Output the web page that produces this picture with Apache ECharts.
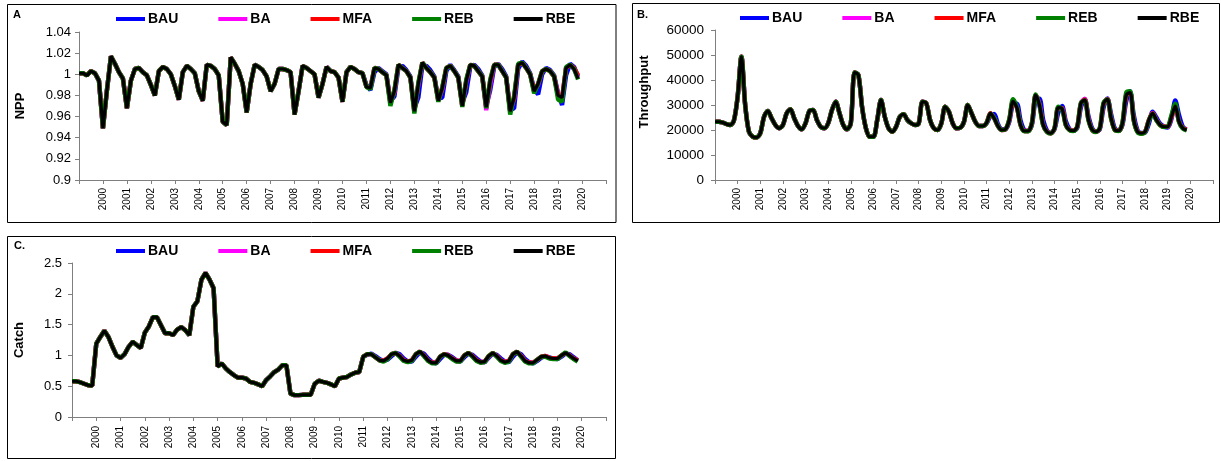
<!DOCTYPE html>
<html>
<head>
<meta charset="utf-8">
<script src="https://cdn.jsdelivr.net/npm/echarts@6/dist/echarts.min.js"></script>
<style>
  html, body { margin: 0; padding: 0; background: #fff; }
  #chart { width: 1221px; height: 461px; }
</style>
</head>
<body>
<div id="chart"></div>
<script>
// Bi-monthly model output, Jan 1999 - Nov 2019.
// The hindcast (1999-2010) is shared by all scenarios; scenarios diverge from 2011.
const FIRST_YEAR = 1999;
const STEPS_PER_YEAR = 6;
const SCENARIOS = ['BAU', 'BA', 'MFA', 'REB', 'RBE'];
const COLORS = { BAU: '#0000ff', BA: '#ff00ff', MFA: '#ff0000', REB: '#008000', RBE: '#000000' };
const YEAR_LABELS = ['2000','2001','2002','2003','2004','2005','2006','2007','2008','2009','2010',
                     '2011','2012','2013','2014','2015','2016','2017','2018','2019','2020'];

// ---- A: NPP (relative) ----
const nppHindcast = [
  1.001, 1.001, 0.999, 1.003, 1.001, 0.994,
  0.949, 0.985, 1.017, 1.010, 1.002, 0.996,
  0.968, 0.994, 1.005, 1.006, 1.002, 0.999,
  0.990, 0.980, 1.003, 1.007, 1.005, 1.000,
  0.989, 0.976, 1.002, 1.008, 1.005, 1.001,
  0.984, 0.975, 1.009, 1.008, 1.005, 0.999,
  0.955, 0.952, 1.016, 1.010, 1.003, 0.991,
  0.964, 0.991, 1.009, 1.007, 1.004, 0.998,
  0.984, 0.991, 1.005, 1.005, 1.004, 1.002,
  0.962, 0.984, 1.008, 1.006, 1.003, 1.000,
  0.978, 0.991, 1.007, 1.003, 1.002, 0.997,
  0.974, 1.002, 1.007, 1.005, 1.002, 1.001
];
const nppBAU = [
  0.990, 0.985, 1.002, 1.006, 1.003, 1.000,
  0.975, 0.979, 1.006, 1.008, 1.004, 0.998,
  0.968, 0.978, 1.008, 1.008, 1.004, 0.998,
  0.977, 0.978, 1.003, 1.009, 1.004, 0.998,
  0.973, 0.983, 1.007, 1.009, 1.005, 0.999,
  0.970, 0.985, 1.007, 1.010, 1.005, 0.998,
  0.966, 0.968, 1.005, 1.012, 1.008, 1.001,
  0.986, 0.981, 1.000, 1.006, 1.004, 0.999,
  0.982, 0.971, 0.999, 1.010, 1.007, 0.998
];
const nppBA = [
  0.988, 0.987, 1.006, 1.005, 1.002, 0.999,
  0.973, 0.983, 1.009, 1.006, 1.003, 0.997,
  0.965, 0.990, 1.011, 1.006, 1.002, 0.997,
  0.975, 0.986, 1.006, 1.008, 1.003, 0.997,
  0.970, 0.993, 1.009, 1.008, 1.003, 0.998,
  0.966, 0.990, 1.009, 1.009, 1.003, 0.997,
  0.965, 0.977, 1.009, 1.011, 1.006, 1.000,
  0.984, 0.990, 1.003, 1.005, 1.003, 0.998,
  0.980, 0.977, 1.006, 1.009, 1.005, 0.997
];
const nppMFA = [
  0.988, 0.987, 1.006, 1.005, 1.002, 0.999,
  0.973, 0.984, 1.009, 1.006, 1.003, 0.997,
  0.965, 0.991, 1.011, 1.006, 1.002, 0.997,
  0.975, 0.987, 1.006, 1.008, 1.003, 0.997,
  0.970, 0.994, 1.009, 1.008, 1.003, 0.998,
  0.969, 0.994, 1.009, 1.009, 1.003, 0.997,
  0.965, 0.978, 1.009, 1.011, 1.006, 1.000,
  0.984, 0.991, 1.003, 1.005, 1.003, 0.998,
  0.980, 0.978, 1.006, 1.009, 1.006, 0.999
];
const nppREB = [
  0.988, 0.986, 1.006, 1.005, 1.002, 0.999,
  0.970, 0.985, 1.009, 1.006, 1.003, 0.997,
  0.963, 0.992, 1.011, 1.006, 1.002, 0.997,
  0.974, 0.988, 1.006, 1.008, 1.003, 0.997,
  0.969, 0.995, 1.009, 1.008, 1.003, 0.998,
  0.968, 0.995, 1.009, 1.009, 1.003, 0.997,
  0.962, 0.980, 1.010, 1.011, 1.006, 1.000,
  0.982, 0.991, 1.003, 1.005, 1.003, 0.998,
  0.976, 0.974, 1.007, 1.009, 1.005, 0.995
];
const nppRBE = [
  0.988, 0.987, 1.006, 1.005, 1.002, 0.999,
  0.973, 0.984, 1.009, 1.006, 1.003, 0.997,
  0.965, 0.991, 1.011, 1.006, 1.002, 0.997,
  0.975, 0.987, 1.006, 1.008, 1.003, 0.997,
  0.970, 0.994, 1.009, 1.008, 1.003, 0.998,
  0.969, 0.994, 1.009, 1.009, 1.003, 0.997,
  0.965, 0.978, 1.009, 1.011, 1.006, 1.000,
  0.984, 0.991, 1.003, 1.005, 1.003, 0.998,
  0.980, 0.978, 1.006, 1.009, 1.005, 0.996
];

// ---- B: Throughput ----
const tputHindcast = [
  23300, 23300, 23000, 22400, 22000, 23700,
  33300, 49300, 30000, 19300, 17300, 17000,
  18700, 25300, 27600, 24700, 22000, 20700,
  22000, 26700, 28300, 24700, 21600, 20300,
  22700, 27600, 28000, 24000, 21300, 20700,
  22700, 28000, 31300, 26700, 22000, 20300,
  22700, 43000, 42000, 29000, 20700, 17300,
  17300, 24000, 32000, 25300, 20700, 19300,
  21300, 25300, 26300, 24000, 22700, 22000,
  22700, 31300, 30700, 24000, 20700, 20000,
  22700, 29300, 27300, 22700, 20700, 20900,
  23300, 30000, 26700, 23300, 21600, 21600
];
const tputBAU = [
  22700, 25500, 26400, 22400, 20300, 20300,
  23300, 30200, 30500, 23800, 20000, 19600,
  22000, 32000, 32500, 24000, 19800, 18800,
  20300, 27000, 29600, 23500, 20400, 19700,
  20800, 29000, 32400, 25500, 20600, 19400,
  20300, 29000, 32600, 26300, 20600, 19800,
  22000, 31500, 35500, 26000, 19900, 18800,
  19000, 22500, 27300, 25000, 22500, 21400,
  21000, 24500, 31800, 26000, 21300, 20200
];
const tputBA = [
  22900, 26600, 24800, 21600, 20000, 20300,
  24000, 31300, 29200, 22000, 19600, 19600,
  22700, 33800, 30300, 22000, 19300, 18700,
  20700, 28800, 28700, 22000, 20000, 19700,
  21200, 30800, 32400, 24300, 20000, 19300,
  20700, 30500, 32400, 24800, 20000, 19700,
  22600, 33800, 35100, 24100, 19300, 18700,
  19300, 23900, 26800, 24100, 22000, 21300,
  21300, 25200, 29900, 23400, 20700, 20100
];
const tputMFA = [
  22900, 26700, 24700, 21600, 20000, 20300,
  24000, 31400, 29100, 22000, 19600, 19600,
  22700, 34000, 30100, 22000, 19300, 18700,
  20700, 28900, 28600, 22000, 20000, 19700,
  21300, 30600, 32100, 24100, 20000, 19300,
  20700, 30600, 32300, 24700, 20000, 19700,
  22700, 34000, 35000, 24000, 19300, 18700,
  19300, 24000, 26700, 24000, 22000, 21300,
  21300, 25300, 29700, 23400, 20800, 20200
];
const tputREB = [
  22900, 26500, 24800, 21600, 20000, 20300,
  24300, 32300, 29300, 22000, 19500, 19500,
  22800, 34200, 29800, 21800, 19200, 18600,
  20800, 29300, 28300, 21900, 19900, 19600,
  21300, 30900, 31800, 23800, 19900, 19200,
  20800, 31000, 32200, 24500, 19900, 19600,
  22900, 35000, 35500, 23800, 19100, 18500,
  19200, 23800, 26500, 23900, 21900, 21200,
  21400, 26000, 30500, 23200, 20600, 19800
];
const tputRBE = [
  22900, 26700, 24700, 21600, 20000, 20300,
  24000, 31500, 29000, 22000, 19600, 19600,
  22700, 34000, 30000, 22000, 19300, 18700,
  20700, 29000, 28500, 22000, 20000, 19700,
  21300, 30700, 32000, 24000, 20000, 19300,
  20700, 30700, 32300, 24700, 20000, 19700,
  22700, 34000, 35000, 24000, 19300, 18700,
  19300, 24000, 26700, 24000, 22000, 21300,
  21300, 25300, 29600, 23300, 20700, 20000
];

// ---- C: Catch ----
const catchHindcast = [
  0.58, 0.58, 0.565, 0.54, 0.515, 0.51,
  1.19, 1.30, 1.40, 1.30, 1.14, 1.00,
  0.96, 1.02, 1.14, 1.22, 1.17, 1.12,
  1.37, 1.47, 1.62, 1.62, 1.49, 1.36,
  1.36, 1.33, 1.42, 1.46, 1.41, 1.33,
  1.79, 1.88, 2.23, 2.34, 2.23, 2.09,
  0.82, 0.87, 0.79, 0.73, 0.68, 0.64,
  0.64, 0.625, 0.57, 0.555, 0.53, 0.50,
  0.60, 0.66, 0.73, 0.77, 0.84, 0.84,
  0.38, 0.355, 0.355, 0.36, 0.36, 0.36,
  0.54, 0.59, 0.57, 0.555, 0.53, 0.50,
  0.625, 0.64, 0.65, 0.69, 0.72, 0.73
];
const catchBAU = [
  0.98, 1.01, 1.03, 0.99, 0.94, 0.91,
  0.93, 0.99, 1.04, 1.02, 0.95, 0.90,
  0.90, 0.98, 1.05, 1.03, 0.95, 0.89,
  0.87, 0.94, 1.01, 1.01, 0.97, 0.92,
  0.90, 0.97, 1.03, 1.01, 0.95, 0.90,
  0.89, 0.96, 1.03, 1.01, 0.95, 0.90,
  0.89, 0.98, 1.05, 1.02, 0.94, 0.89,
  0.87, 0.91, 0.96, 0.99, 0.97, 0.95,
  0.94, 0.98, 1.03, 1.02, 0.97, 0.92
];
const catchBA = [
  0.98, 1.02, 1.02, 0.97, 0.92, 0.91,
  0.95, 1.02, 1.04, 0.99, 0.92, 0.90,
  0.92, 1.02, 1.06, 1.00, 0.92, 0.88,
  0.88, 0.98, 1.02, 1.00, 0.95, 0.91,
  0.91, 1.00, 1.04, 0.99, 0.92, 0.89,
  0.89, 0.98, 1.04, 0.99, 0.92, 0.89,
  0.91, 1.02, 1.06, 0.99, 0.91, 0.88,
  0.88, 0.93, 0.98, 0.99, 0.96, 0.95,
  0.95, 1.00, 1.04, 1.00, 0.95, 0.91
];
const catchMFA = [
  0.98, 1.02, 1.02, 0.97, 0.92, 0.91,
  0.95, 1.02, 1.04, 0.99, 0.92, 0.90,
  0.92, 1.02, 1.06, 1.00, 0.92, 0.88,
  0.88, 0.98, 1.02, 1.00, 0.95, 0.91,
  0.91, 1.00, 1.04, 0.99, 0.92, 0.89,
  0.90, 0.99, 1.04, 0.99, 0.92, 0.89,
  0.91, 1.02, 1.06, 0.99, 0.91, 0.88,
  0.88, 0.93, 0.98, 0.99, 0.96, 0.95,
  0.95, 1.00, 1.04, 1.00, 0.95, 0.92
];
const catchREB = [
  0.98, 1.02, 1.02, 0.97, 0.92, 0.90,
  0.94, 1.02, 1.04, 0.98, 0.91, 0.89,
  0.91, 1.02, 1.06, 0.99, 0.91, 0.87,
  0.87, 0.98, 1.02, 0.99, 0.94, 0.90,
  0.90, 1.00, 1.04, 0.98, 0.91, 0.88,
  0.89, 0.99, 1.04, 0.98, 0.91, 0.88,
  0.90, 1.02, 1.06, 0.98, 0.90, 0.87,
  0.87, 0.93, 0.98, 0.98, 0.95, 0.94,
  0.94, 1.00, 1.05, 0.99, 0.94, 0.90
];
const catchRBE = [
  0.98, 1.02, 1.02, 0.97, 0.92, 0.91,
  0.95, 1.02, 1.04, 0.99, 0.92, 0.90,
  0.92, 1.02, 1.06, 1.00, 0.92, 0.88,
  0.88, 0.98, 1.02, 1.00, 0.95, 0.91,
  0.91, 1.00, 1.04, 0.99, 0.92, 0.89,
  0.90, 0.99, 1.04, 0.99, 0.92, 0.89,
  0.91, 1.02, 1.06, 0.99, 0.91, 0.88,
  0.88, 0.93, 0.98, 0.99, 0.96, 0.95,
  0.95, 1.00, 1.04, 1.00, 0.95, 0.91
];

const FONT = 'Arial, "Liberation Sans", Helvetica, sans-serif';

// Pair each value with its decimal year.
function toPairs(values) {
  return values.map((v, i) => [FIRST_YEAR + i / STEPS_PER_YEAR, v]);
}

const panels = [
  {
    hindcast: nppHindcast,
    runs: { BAU: nppBAU, BA: nppBA, MFA: nppMFA, REB: nppREB, RBE: nppRBE },
    grid: { left: 79, top: 32, width: 527, height: 148 },
    y: { min: 0.9, max: 1.04, interval: 0.02, fontSize: 13, margin: 8 },
    xMargin: 8, smooth: false,
    legendTop: 12, legendLeft: 116
  },
  {
    hindcast: tputHindcast,
    runs: { BAU: tputBAU, BA: tputBA, MFA: tputMFA, REB: tputREB, RBE: tputRBE },
    grid: { left: 715, top: 30, width: 498, height: 150 },
    y: { min: 0, max: 60000, interval: 10000, fontSize: 13.5, margin: 11 },
    xMargin: 8, smooth: 0.3,
    legendTop: 11, legendLeft: 740
  },
  {
    hindcast: catchHindcast,
    runs: { BAU: catchBAU, BA: catchBA, MFA: catchMFA, REB: catchREB, RBE: catchRBE },
    grid: { left: 72, top: 263, width: 534, height: 154 },
    y: { min: 0, max: 2.5, interval: 0.5, fontSize: 13, margin: 10 },
    xMargin: 9, smooth: false,
    legendTop: 244, legendLeft: 116
  }
];

const axisGrey = '#7f7f7f';

const grids = [], xAxes = [], yAxes = [], legends = [], series = [];
panels.forEach((p, idx) => {
  grids.push(Object.assign({ containLabel: false, outerBoundsMode: 'none' }, p.grid));
  xAxes.push({
    type: 'value', gridIndex: idx, min: 1999, max: 2021, interval: 1,
    axisLine: { show: true, onZero: false, lineStyle: { color: axisGrey, width: 1 } },
    axisTick: { show: true, length: 4, lineStyle: { color: axisGrey } },
    splitLine: { show: false },
    axisLabel: {
      rotate: 90, margin: p.xMargin, fontSize: 10, color: '#000', fontFamily: FONT,
      hideOverlap: false,
      formatter: v => { const s = String(Math.round(v)); return YEAR_LABELS.includes(s) ? s : ''; }
    }
  });
  yAxes.push({
    type: 'value', gridIndex: idx, min: p.y.min, max: p.y.max, interval: p.y.interval,
    axisLine: { show: true, lineStyle: { color: axisGrey, width: 1 } },
    axisTick: { show: true, length: 4, lineStyle: { color: axisGrey } },
    splitLine: { show: false },
    axisLabel: {
      margin: p.y.margin, fontSize: p.y.fontSize, color: '#000', fontFamily: FONT,
      formatter: v => String(parseFloat(v.toFixed(2)))
    }
  });
  legends.push({
    left: p.legendLeft, top: p.legendTop, orient: 'horizontal', padding: 0,
    data: SCENARIOS, icon: 'rect', itemWidth: 29, itemHeight: 4, itemGap: 40,
    selectedMode: false,
    textStyle: { fontFamily: FONT, fontWeight: 'bold', fontSize: 14, color: '#000', padding: [0, 0, 0, -2] }
  });
  SCENARIOS.forEach(name => {
    series.push({
      name, type: 'line', xAxisIndex: idx, yAxisIndex: idx,
      data: toPairs(p.hindcast.concat(p.runs[name])),
      symbol: 'none', showSymbol: false, smooth: p.smooth,
      color: COLORS[name],
      lineStyle: { color: COLORS[name], width: name === 'RBE' ? 3.2 : 4.4 },
      itemStyle: { color: COLORS[name] },
      emphasis: { disabled: true },
      animation: false
    });
  });
});

const frame = (x, y, w, h) => ({
  type: 'rect', shape: { x, y, width: w, height: h },
  style: { fill: 'none', stroke: '#000', lineWidth: 1 }, silent: true
});
const label = (x, y, text, size) => ({
  type: 'text', x, y,
  style: { text, fill: '#000', font: `bold ${size}px ${FONT}` }
});
const axisTitle = (x, y, text) => ({
  type: 'text', x, y, rotation: Math.PI / 2,
  style: { text, fill: '#000', font: `bold 13px ${FONT}`, align: 'center', verticalAlign: 'middle' }
});

const chart = echarts.init(document.getElementById('chart'), null, { renderer: 'canvas' });
chart.setOption({
  animation: false,
  backgroundColor: '#fff',
  grid: grids,
  xAxis: xAxes,
  yAxis: yAxes,
  legend: legends,
  series,
  graphic: [
    frame(7.5, 4.5, 608.5, 218),
    frame(632.5, 3.5, 587, 219),
    frame(7.5, 236.5, 608, 222),
    label(13, 9, 'A', 11),
    label(637, 9, 'B.', 11),
    label(14, 240, 'C.', 11),
    axisTitle(20, 106, 'NPP'),
    axisTitle(644, 92, 'Throughput'),
    axisTitle(19, 340, 'Catch')
  ]
});
</script>
</body>
</html>
